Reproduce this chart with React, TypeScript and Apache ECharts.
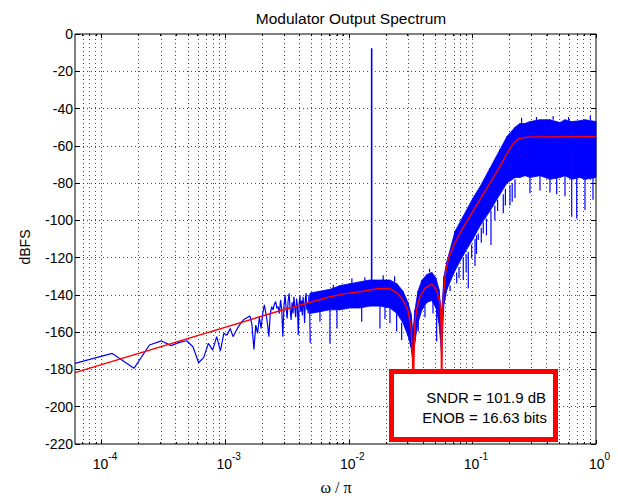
import { useEffect, useRef } from "react";
import * as echarts from "echarts";

const NFFT = 32768;
const FONT = '"Liberation Sans", Arial, Helvetica, sans-serif';
const SERIF = '"Liberation Serif", "Times New Roman", serif';

// x tick decades (exponents of 10) and y ticks
const xMajorExponents = [-4, -3, -2, -1, 0];
const yGridValues = [-20, -40, -60, -80, -100, -120, -140, -160, -180, -200];

// low-frequency FFT bins, read individually
const sparseBins = [
  1, 2, 3, 4, 5, 6, 7, 8, 9, 10, 11, 12, 13, 14, 15, 16, 17, 18, 19, 20,
  21, 22, 23, 24, 25, 26, 27, 28, 29, 30, 31, 32, 33, 34, 35, 36, 37, 38, 39, 40,
  41, 42, 43, 44, 45, 46, 47, 48, 49, 50, 51, 52, 53, 54, 55, 56, 57, 58, 59, 60,
  61, 62, 63, 64, 65, 66, 67, 68, 69, 70, 71, 72, 73, 74, 75, 76, 77, 78, 79, 80,
];
const sparseDb = [
  -176.7, -171.4, -179.4, -166.9, -164.7, -167.2, -165.5, -164.6, -167.8, -176.4,
  -173.5, -166, -169.6, -162.4, -170, -160.6, -161.5, -158, -162.4, -159.5,
  -157, -155, -153.5, -152.6, -152, -151.3, -156, -169.3, -156.2, -160.6,
  -152, -158, -150, -145.4, -149.9, -155, -162.4, -150, -146.3, -148,
  -145, -143.6, -147.2, -146.3, -150, -142.7, -148, -162.4, -146, -140,
  -147, -152.6, -143, -139.1, -148, -153.5, -144, -150, -141, -147,
  -152, -142, -146, -161.5, -145, -140, -149, -143, -151, -141,
  -146, -155, -142, -139, -148, -144, -150, -140, -145, -166,
];

// dense part of the spectrum: upper and lower edge of the blue band
const bandFreq = [
  0.004855, 0.005848, 0.007046, 0.008489, 0.010226, 0.01232, 0.014841, 0.01788,
  0.021544, 0.024547, 0.027449, 0.03013, 0.03186, 0.03307, 0.034327, 0.0363,
  0.039113, 0.042926, 0.047107, 0.050758, 0.053672, 0.056234, 0.05891, 0.062289,
  0.072295, 0.083904, 0.10113, 0.1152, 0.1388, 0.16722, 0.19055, 0.22118,
  0.2427, 0.26644, 0.2924, 0.3523, 0.4244, 0.51146, 0.5612, 0.636, 0.74231,
  0.8146, 1,
];
const bandHi = [
  -139, -138, -137, -135, -134, -133, -132, -132,
  -132, -134, -138, -144, -150, -160, -148, -138,
  -132, -129, -128, -131, -137, -150, -130, -122,
  -106, -98, -88, -82, -72, -62, -55, -50,
  -48, -48, -47, -46, -46, -47.5, -46, -47, -46.5,
  -46, -47,
];
const bandLo = [
  -150, -149, -148, -148, -147, -147, -146, -146,
  -147, -150, -155, -162, -168, -176, -165, -155,
  -148, -144, -143, -147, -155, -171, -145, -137,
  -127, -119, -110, -103, -95, -86, -80, -77,
  -77, -76, -77, -76, -78, -77, -76, -78, -77,
  -78, -77,
];

// isolated spikes of the dense part (downward and small upward ones)
const spikeFreq = [
  0.005848, 0.007046, 0.00803, 0.01272, 0.01788, 0.01963, 0.02154, 0.0244,
  0.02679, 0.0365, 0.04135, 0.04801, 0.05143, 0.07464, 0.0844, 0.09265,
  0.0987, 0.105, 0.1116, 0.1225, 0.1414, 0.1778, 0.2014, 0.2212, 0.2924,
  0.3523, 0.4244, 0.4808, 0.5612, 0.636, 0.6982, 0.8146, 0.9456,
  0.066, 0.078, 0.089, 0.108, 0.118, 0.13, 0.152, 0.16, 0.185, 0.21,
  0.0075, 0.0106, 0.0135, 0.019, 0.0235, 0.045, 0.25, 0.33, 0.45, 0.6, 0.9,
];
const spikeBase = [
  -149, -148, -148, -147, -146, -146, -147, -150,
  -155, -155, -146, -143, -147, -128, -120, -117,
  -113, -110, -107, -101, -95, -86, -81, -78, -77,
  -76, -78, -77, -76, -78, -77, -78, -77,
  -135, -125, -118, -108, -104, -99, -92, -89, -83, -80,
  -137, -134, -133, -132, -133, -128, -48, -47, -46, -47, -46,
];
const spikeTip = [
  -154.4, -166, -158, -154.4, -158, -153, -155.2, -159.7,
  -164.2, -159.7, -152, -150, -165, -133.7, -132, -136.5,
  -120.4, -124.5, -110.5, -107, -113.2, -96.2, -92, -88, -85.5,
  -84, -85, -86, -87, -98, -99, -94.5, -89,
  -138, -131, -128, -118, -112, -108, -100, -95, -92, -90,
  -134.5, -131, -130.5, -129.5, -130, -126, -45, -44.5, -44, -44.5, -44,
];

// input tone
const toneFreq = 0.01532;
const toneBase = -135;
const toneDb = -7.7;

// expected noise transfer curve (red)
const ntfFreq = [
  2 / NFFT, 0.002776, 0.007046, 0.009318, 0.01232, 0.01691, 0.02154, 0.02455,
  0.02745, 0.03013, 0.03186, 0.03276, 0.03308, 0.03388, 0.03433, 0.03537,
  0.0377, 0.04135, 0.04686, 0.05143, 0.05472, 0.05579, 0.05644, 0.05729,
  0.05837, 0.06005, 0.06354, 0.07229, 0.0839, 0.10113, 0.1388, 0.1672,
  0.1906, 0.2131, 0.2338, 0.2664, 0.3092, 1,
];
const ntfDb = [
  -181.7, -148.5, -141, -139.3, -138.3, -136.7, -136.6, -139,
  -142.7, -148.5, -157, -170, -200, -168, -155, -148,
  -141, -136.4, -134.2, -137.4, -144.5, -156, -200, -152,
  -140, -130, -121, -112, -104, -95, -80, -71,
  -64, -59, -56.5, -55.5, -55.2, -55.1,
];

const boxLines = ["SNDR = 101.9 dB", "ENOB = 16.63 bits"];

export default function App() {
  const ref = useRef<HTMLDivElement>(null);

  useEffect(() => {
    if (!ref.current) return;
    const chart = echarts.init(ref.current, undefined, { renderer: "svg" });
    const lg = (f: number) => Math.log10(f);
    const X_MIN = lg(2 / NFFT);
    const X_MAX = 0;

    const minorPositions: number[] = [];
    for (let e = -5; e < 0; e++) {
      for (let k = 2; k <= 9; k++) {
        const v = e + Math.log10(k);
        if (v > X_MIN && v < X_MAX) minorPositions.push(v);
      }
    }
    const majorPositions = xMajorExponents.filter((v) => v >= X_MIN && v <= X_MAX);

    const blue = "#0000ff";
    const red = "#ff0000";

    const sparseData = sparseBins.map((b, i) => [lg((2 * b) / NFFT), sparseDb[i]]);
    const bandData = bandFreq.map((f, i) => [lg(f), bandHi[i], bandLo[i]]);
    const spikeData: any[] = [];
    spikeFreq.forEach((f, i) => {
      spikeData.push([lg(f), spikeBase[i]], [lg(f), spikeTip[i]], [lg(f), "-"]);
    });
    const toneData = [
      [lg(toneFreq), toneBase],
      [lg(toneFreq), toneDb],
    ];
    const ntfData = ntfFreq.map((f, i) => [lg(f), ntfDb[i]]);

    const baseX = {
      type: "value" as const,
      min: X_MIN,
      max: X_MAX,
      splitLine: { show: false },
      axisLine: { show: false, onZero: false },
    };

    const gridMarks = [
      ...majorPositions.filter((v) => v < X_MAX).map((v) => ({ xAxis: v })),
      ...minorPositions.map((v) => ({ xAxis: v })),
      ...yGridValues.map((v) => ({ yAxis: v })),
    ];

    chart.setOption({
      animation: false,
      backgroundColor: "#ffffff",
      grid: {
        left: 75,
        right: 22,
        top: 34,
        bottom: 52,
        show: true,
        borderColor: "#000",
        borderWidth: 1,
        backgroundColor: "transparent",
      },
      xAxis: [
        {
          ...baseX,
          position: "bottom",
          axisTick: {
            show: true,
            inside: true,
            length: 4,
            customValues: majorPositions,
            lineStyle: { color: "#000", width: 1 },
          },
          axisLabel: {
            show: true,
            customValues: majorPositions,
            margin: 7,
            formatter: (v: number) => `{b|10}{s|${Math.round(v)}}`,
            rich: {
              b: {
                fontSize: 14,
                fontFamily: FONT,
                color: "#000",
                padding: [0, 0, 0, 7],
                lineHeight: 20,
                verticalAlign: "bottom",
              },
              s: {
                fontSize: 10,
                fontFamily: FONT,
                color: "#000",
                lineHeight: 12,
                verticalAlign: "top",
              },
            },
          },
        },
        {
          ...baseX,
          position: "bottom",
          axisTick: {
            show: true,
            inside: true,
            length: 2,
            customValues: minorPositions,
            lineStyle: { color: "#000", width: 1 },
          },
          axisLabel: { show: false },
        },
        {
          ...baseX,
          position: "top",
          axisTick: {
            show: true,
            inside: true,
            length: 4,
            customValues: majorPositions,
            lineStyle: { color: "#000", width: 1 },
          },
          axisLabel: { show: false },
        },
        {
          ...baseX,
          position: "top",
          axisTick: {
            show: true,
            inside: true,
            length: 2,
            customValues: minorPositions,
            lineStyle: { color: "#000", width: 1 },
          },
          axisLabel: { show: false },
        },
      ],
      yAxis: [
        {
          type: "value",
          min: -220,
          max: 0,
          interval: 20,
          position: "left",
          axisLine: { show: false, onZero: false },
          splitLine: { show: false },
          axisTick: { show: true, inside: true, length: 5, lineStyle: { color: "#000" } },
          axisLabel: { fontSize: 14, fontFamily: FONT, color: "#000", margin: 2 },
        },
        {
          type: "value",
          min: -220,
          max: 0,
          interval: 20,
          position: "right",
          axisLine: { show: false, onZero: false },
          splitLine: { show: false },
          axisTick: { show: true, inside: true, length: 5, lineStyle: { color: "#000" } },
          axisLabel: { show: false },
        },
      ],
      series: [
        {
          type: "line",
          name: "grid",
          data: [],
          silent: true,
          markLine: {
            z: 1,
            silent: true,
            symbol: ["none", "none"],
            label: { show: false },
            lineStyle: { color: "#000", width: 1, type: [1, 3], opacity: 0.7 },
            emphasis: { disabled: true },
            data: gridMarks,
          },
        },
        {
          type: "line",
          name: "spectrum",
          data: sparseData,
          symbol: "none",
          z: 3,
          lineStyle: { color: blue, width: 1.2 },
        },
        {
          type: "custom",
          name: "band",
          coordinateSystem: "cartesian2d",
          data: bandData,
          encode: { x: 0, y: [1, 2] },
          z: 3,
          silent: true,
          renderItem: (params: any, api: any) => {
            const i = params.dataIndexInside;
            if (i >= params.dataInsideLength - 1) return { type: "group", children: [] };
            const x0 = api.value(0, i);
            const x1 = api.value(0, i + 1);
            const points = [
              api.coord([x0, api.value(1, i)]),
              api.coord([x1, api.value(1, i + 1)]),
              api.coord([x1, api.value(2, i + 1)]),
              api.coord([x0, api.value(2, i)]),
            ];
            return {
              type: "polygon",
              shape: { points },
              style: { fill: blue, stroke: blue, lineWidth: 0.8 },
            };
          },
        },
        {
          type: "line",
          name: "spikes",
          data: spikeData,
          symbol: "none",
          z: 3,
          connectNulls: false,
          lineStyle: { color: blue, width: 1.2 },
        },
        {
          type: "line",
          name: "tone",
          data: toneData,
          symbol: "none",
          z: 3,
          lineStyle: { color: blue, width: 1.6 },
        },
        {
          type: "line",
          name: "NTF",
          data: ntfData,
          symbol: "none",
          z: 4,
          lineStyle: { color: red, width: 1.4 },
        },
      ],
      graphic: [
        {
          type: "text",
          z: 100,
          x: 351,
          y: 18,
          style: {
            text: "Modulator Output Spectrum",
            fontSize: 15.5,
            fontFamily: FONT,
            fill: "#000",
            align: "center",
            verticalAlign: "middle",
          },
        },
        {
          type: "text",
          z: 100,
          x: 25,
          y: 247,
          rotation: Math.PI / 2,
          style: {
            text: "dBFS",
            fontSize: 14,
            fontFamily: FONT,
            fill: "#000",
            align: "center",
            verticalAlign: "middle",
          },
        },
        {
          type: "text",
          z: 100,
          x: 336,
          y: 487,
          style: {
            text: "ω / π",
            fontSize: 16,
            fontFamily: SERIF,
            fill: "#000",
            align: "center",
            verticalAlign: "middle",
          },
        },
        {
          type: "rect",
          z: 100,
          shape: { x: 391.5, y: 371.5, width: 164, height: 68 },
          style: { fill: "#ffffff", stroke: red, lineWidth: 5 },
        },
        {
          type: "text",
          z: 101,
          x: 546,
          y: 397,
          style: {
            text: boxLines[0],
            fontSize: 15,
            fontFamily: FONT,
            fill: "#000",
            align: "right",
            verticalAlign: "middle",
          },
        },
        {
          type: "text",
          z: 101,
          x: 547,
          y: 417.5,
          style: {
            text: boxLines[1],
            fontSize: 15,
            fontFamily: FONT,
            fill: "#000",
            align: "right",
            verticalAlign: "middle",
          },
        },
      ],
    });

    return () => chart.dispose();
  }, []);

  return (
    <div
      ref={ref}
      style={{ position: "fixed", left: 0, top: 0, width: 618, height: 496, background: "#fff" }}
    />
  );
}
